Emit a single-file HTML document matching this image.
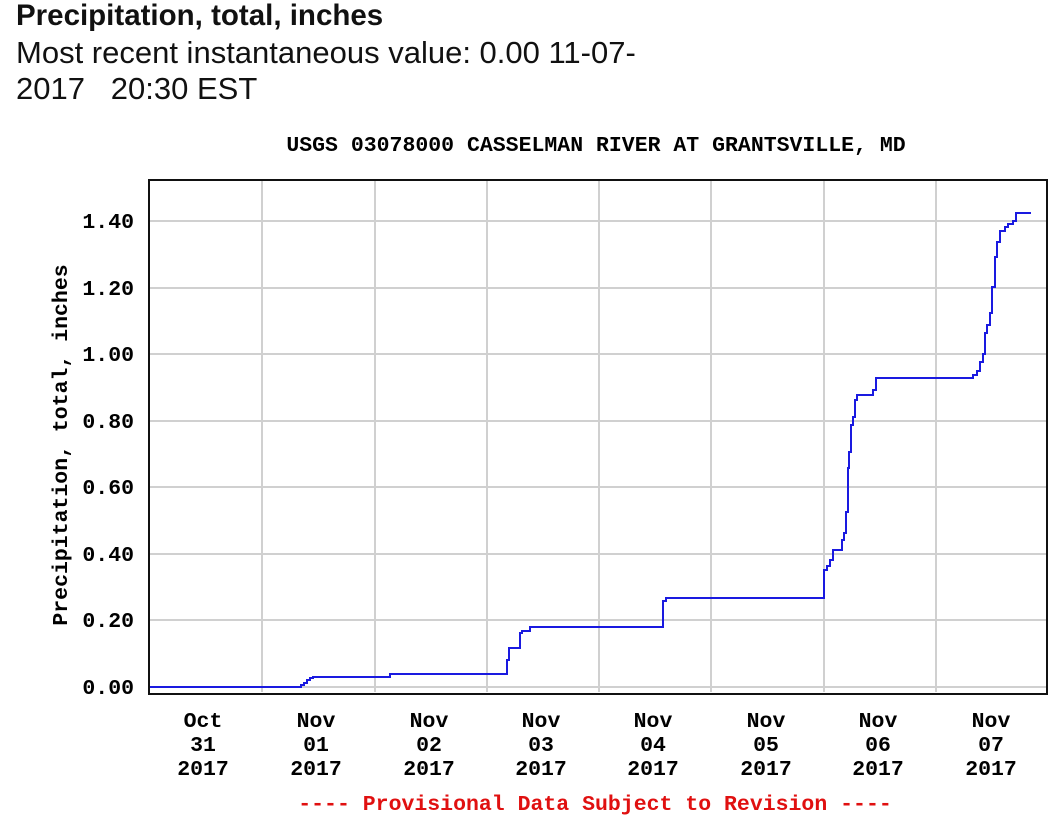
<!DOCTYPE html>
<html><head><style>
html,body{margin:0;padding:0;background:#fff;width:1059px;height:828px;overflow:hidden}
.h{position:absolute;left:16px;font-family:"Liberation Sans",sans-serif;color:#111;line-height:36px;white-space:nowrap}
</style></head><body>
<div class="h" style="top:-2px;font-weight:bold;font-size:29.5px">Precipitation, total, inches</div>
<div class="h" style="top:35px;font-size:31px">Most recent instantaneous value: 0.00 11-07-</div>
<div class="h" style="top:71px;font-size:31px">2017&nbsp;&nbsp;&nbsp;20:30 EST</div>
<svg width="1059" height="828" style="position:absolute;left:0;top:0" font-family="Liberation Mono, monospace" font-weight="bold">
<text x="596" y="151" font-size="21.5" text-anchor="middle">USGS 03078000 CASSELMAN RIVER AT GRANTSVILLE, MD</text>
<g stroke="#d0d0d0" stroke-width="2">
<line x1="262" y1="181" x2="262" y2="692"/><line x1="375" y1="181" x2="375" y2="692"/><line x1="487" y1="181" x2="487" y2="692"/><line x1="599" y1="181" x2="599" y2="692"/><line x1="711" y1="181" x2="711" y2="692"/><line x1="824" y1="181" x2="824" y2="692"/><line x1="936" y1="181" x2="936" y2="692"/>
<line x1="150" y1="221" x2="1046" y2="221"/><line x1="150" y1="288" x2="1046" y2="288"/><line x1="150" y1="354" x2="1046" y2="354"/><line x1="150" y1="421" x2="1046" y2="421"/><line x1="150" y1="487" x2="1046" y2="487"/><line x1="150" y1="554" x2="1046" y2="554"/><line x1="150" y1="620" x2="1046" y2="620"/><line x1="150" y1="687" x2="1046" y2="687"/>
</g>
<rect x="149" y="180" width="898" height="514" fill="none" stroke="#111" stroke-width="2"/>
<path fill="none" stroke="#1a1ae0" stroke-width="2" d="M150,687 H301 V685 H304 V683 H307 V680 H310 V678 H313 V677 H390 V674 H507 V660 H509 V648 H520 V633 H522 V631 H530 V627 H663 V601 H666 V598 H824 V570 H827 V566 H830 V560 H833 V550 H842 V540 H844 V533 H846 V512 H848 V468 H849 V452 H851 V425 H853 V417 H855 V400 H857 V395 H873 V390 H876 V378 H973 V375 H977 V371 H980 V362 H983 V354 H985 V333 H987 V325 H990 V313 H992 V287 H995 V257 H997 V242 H1000 V231 H1005 V227 H1008 V224 H1013 V221 H1016 V213 H1031"/>
<g font-size="21.5" text-anchor="end">
<text x="134" y="228">1.40</text><text x="134" y="295">1.20</text><text x="134" y="361">1.00</text><text x="134" y="428">0.80</text><text x="134" y="494">0.60</text><text x="134" y="561">0.40</text><text x="134" y="627">0.20</text><text x="134" y="694">0.00</text>
</g>
<text transform="translate(67,445) rotate(-90)" font-size="21.5" text-anchor="middle">Precipitation, total, inches</text>
<g font-size="21.5" text-anchor="middle">
<text x="203" y="727">Oct</text><text x="203" y="751">31</text><text x="203" y="775">2017</text>
<text x="316" y="727">Nov</text><text x="316" y="751">01</text><text x="316" y="775">2017</text>
<text x="429" y="727">Nov</text><text x="429" y="751">02</text><text x="429" y="775">2017</text>
<text x="541" y="727">Nov</text><text x="541" y="751">03</text><text x="541" y="775">2017</text>
<text x="653" y="727">Nov</text><text x="653" y="751">04</text><text x="653" y="775">2017</text>
<text x="766" y="727">Nov</text><text x="766" y="751">05</text><text x="766" y="775">2017</text>
<text x="878" y="727">Nov</text><text x="878" y="751">06</text><text x="878" y="775">2017</text>
<text x="991" y="727">Nov</text><text x="991" y="751">07</text><text x="991" y="775">2017</text>
</g>
<text x="595" y="810" font-size="21.5" fill="#e01010" text-anchor="middle">---- Provisional Data Subject to Revision ----</text>
</svg>
</body></html>
